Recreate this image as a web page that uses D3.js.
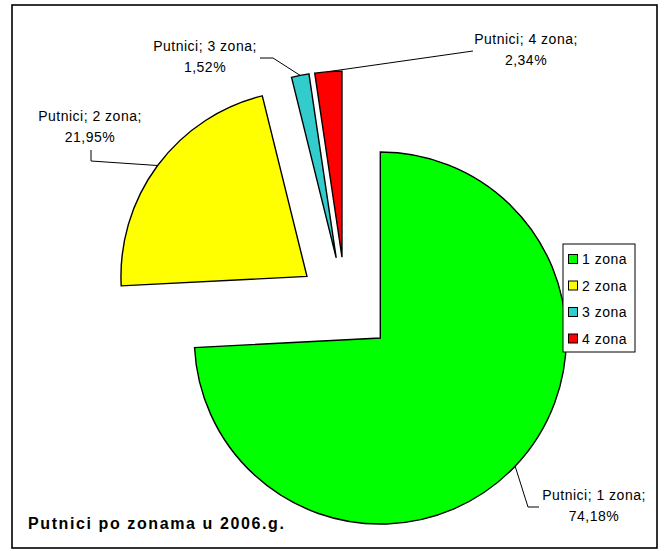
<!DOCTYPE html>
<html>
<head>
<meta charset="utf-8">
<script src="https://cdn.jsdelivr.net/npm/d3@7"></script>
<style>
  body { margin: 0; background: #fff; }
  svg text { font-family: "Liberation Sans", Arial, sans-serif; }
</style>
</head>
<body>
<svg id="chart" width="666" height="551"></svg>
<script>
// data
var categories = ["1 zona", "2 zona", "3 zona", "4 zona"];
var shares = [74.18, 21.95, 1.52, 2.34];
var seriesName = "Putnici";
var chartTitle = "Putnici po zonama u 2006.g.";
var colors = ["#00ff00", "#ffff00", "#33cccc", "#ff0000"];

var svg = d3.select("#chart");

// frame
svg.append("rect")
  .attr("x", 12).attr("y", 5)
  .attr("width", 645).attr("height", 543)
  .attr("fill", "#fff").attr("stroke", "#000").attr("stroke-width", 1.6);

var cx = 345.5, cy = 305, r = 186, explode = 48;

var pie = d3.pie().sort(null).startAngle(0).endAngle(2 * Math.PI);
var arcs = pie(shares);
var arc = d3.arc().innerRadius(0).outerRadius(r);

function shift(d) {
  var a = (d.startAngle + d.endAngle) / 2;
  return [Math.sin(a) * explode, -Math.cos(a) * explode];
}
function edgePoint(d) {
  var a = (d.startAngle + d.endAngle) / 2, o = shift(d);
  return [cx + o[0] + Math.sin(a) * r, cy + o[1] - Math.cos(a) * r];
}

var g = svg.append("g").attr("transform", "translate(" + cx + "," + cy + ")");
g.selectAll("path.slice")
  .data(arcs)
  .enter().append("path")
  .attr("class", "slice")
  .attr("transform", function(d) { var o = shift(d); return "translate(" + o[0] + "," + o[1] + ")"; })
  .attr("d", arc)
  .attr("fill", function(d, i) { return colors[i]; })
  .attr("stroke", "#000")
  .attr("stroke-width", 1.4)
  .attr("stroke-linejoin", "miter");

// label placement (layout only)
var labelPos = [
  { x: 594, y: 500, path: [[528, 507], [539, 507]] },
  { x: 90, y: 121, path: [[91, 161], [91, 150]] },
  { x: 205, y: 51, path: [[273, 58], [260, 58]] },
  { x: 526, y: 44, path: [[473, 51]] }
];

var fmt = function(v) { return d3.format(".2f")(v).replace(".", ",") + "%"; };

arcs.forEach(function(d, i) {
  var p = labelPos[i];
  var pts = [edgePoint(d)].concat(p.path);
  svg.append("path")
    .attr("d", d3.line()(pts))
    .attr("fill", "none").attr("stroke", "#000").attr("stroke-width", 1);
  var t = svg.append("text")
    .attr("text-anchor", "middle")
    .attr("font-size", 14)
    .attr("letter-spacing", 0.5)
    .attr("fill", "#000");
  t.append("tspan").attr("x", p.x).attr("y", p.y)
    .text(seriesName + "; " + categories[i] + ";");
  t.append("tspan").attr("x", p.x).attr("y", p.y + 21)
    .text(fmt(shares[i]));
});

// legend
var lg = svg.append("g").attr("transform", "translate(563,244)");
lg.append("rect").attr("width", 72).attr("height", 108)
  .attr("fill", "#fff").attr("stroke", "#000").attr("stroke-width", 1);
var item = lg.selectAll("g.item").data(categories).enter().append("g")
  .attr("class", "item")
  .attr("transform", function(d, i) { return "translate(0," + (15 + i * 26.5) + ")"; });
item.append("rect").attr("x", 5.5).attr("y", -4.5).attr("width", 9).attr("height", 9)
  .attr("fill", function(d, i) { return colors[i]; })
  .attr("stroke", "#000").attr("stroke-width", 1);
item.append("text").attr("x", 19).attr("y", 5)
  .attr("font-size", 14).attr("letter-spacing", 0.5)
  .text(function(d) { return d; });

// title at the bottom left
svg.append("text")
  .attr("x", 28).attr("y", 529)
  .attr("font-size", 16).attr("font-weight", "bold")
  .attr("letter-spacing", 1.6)
  .text(chartTitle);
</script>
</body>
</html>
